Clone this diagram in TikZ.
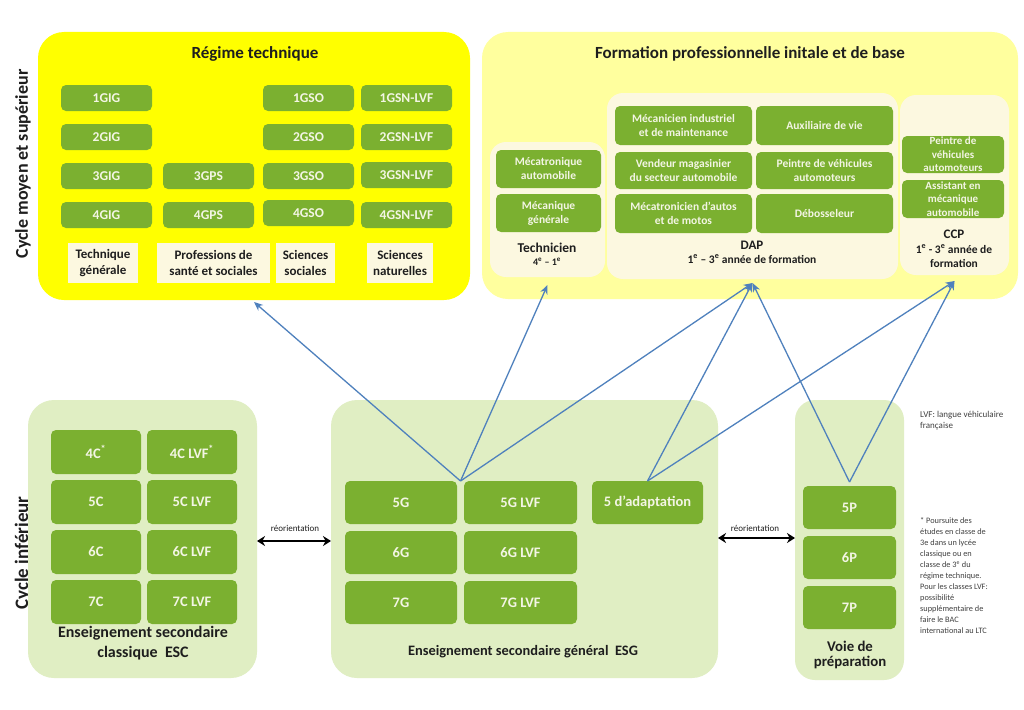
\documentclass[tikz,border=0pt]{standalone}
\usepackage{fontspec}
\setmainfont{Carlito}
\usetikzlibrary{arrows.meta,calc}
\definecolor{ybright}{HTML}{FFFF00}
\definecolor{ylight}{HTML}{FFFF9E}
\definecolor{cream}{HTML}{FCF8E0}
\definecolor{grn}{HTML}{7BB030}
\definecolor{gtxt}{HTML}{F3F5E4}
\definecolor{lgrn}{HTML}{E0EEC3}
\definecolor{arr}{HTML}{4F81BD}
\definecolor{ink}{HTML}{1E1E1E}
\newcommand\bx[7]{\node[#1, minimum width={(#5)-(#3)}, minimum height={(#6)-(#4)}] (#2) at ({((#3)+(#5))/2},{((#4)+(#6))/2}) {#7};}
\tikzset{
  gbox/.style={fill=grn, rounded corners=5pt, text=gtxt, font=\bfseries\fontsize{11.5}{14}\selectfont, align=center, inner sep=0pt, outer sep=0pt},
  gboxR/.style={gbox, font=\bfseries\fontsize{13.5}{15}\selectfont},
  gboxB/.style={gbox, font=\bfseries\fontsize{14.5}{16}\selectfont},
  lbox/.style={fill=cream, text=ink, font=\bfseries\fontsize{13}{16}\selectfont, align=center, inner sep=0pt, outer sep=0pt},
  bigbox/.style={rounded corners=26pt, inner sep=0pt, outer sep=0pt},
  innerbox/.style={fill=cream, rounded corners=16pt, inner sep=0pt, outer sep=0pt},
  lab/.style={text=ink, align=center, inner sep=0pt},
  blue/.style={draw=arr, line width=1.3pt, -{Stealth[length=9pt,width=7.5pt]}},
  reo/.style={draw=black, line width=1.8pt, {Stealth[length=8pt,width=10pt]}-{Stealth[length=8pt,width=10pt]}},
  reolab/.style={font=\fontsize{9}{10}\selectfont, text=ink, inner sep=0pt},
  note/.style={text=ink!85, align=left, inner sep=0pt, anchor=north west}
}
\begin{document}
\begin{tikzpicture}[x=1pt,y=-1pt]
\useasboundingbox[fill=white] (0,0) rectangle (1024,709);

% ---------- side labels ----------
\node[rotate=90, lab, font=\bfseries\fontsize{18}{20}\selectfont] (cms) at (23,164) {Cycle moyen et supérieur};
\node[rotate=90, lab, font=\bfseries\fontsize{19}{21}\selectfont] (ci) at (23,553) {Cycle inférieur};

% ---------- Régime technique ----------
\bx{bigbox, fill=ybright}{rt}{38}{32}{470}{300}{}
\node[lab, font=\bfseries\fontsize{17}{20}\selectfont] (rtt) at (255,54) {Régime technique};
\bx{gboxR}{gig1}{61}{85}{152}{111}{1GIG}
\bx{gboxR}{gig2}{61}{124}{152}{150}{2GIG}
\bx{gboxR}{gig3}{61}{163}{152}{189}{3GIG}
\bx{gboxR}{gig4}{61}{202}{152}{228}{4GIG}
\bx{gboxR}{gps3}{163}{163}{254}{189}{3GPS}
\bx{gboxR}{gps4}{163}{202}{254}{228}{4GPS}
\bx{gboxR}{gso1}{263}{85}{354}{111}{1GSO}
\bx{gboxR}{gso2}{263}{124}{354}{150}{2GSO}
\bx{gboxR}{gso3}{263}{163}{354}{189}{3GSO}
\bx{gboxR}{gso4}{263}{200}{354}{226}{4GSO}
\bx{gboxR}{gsn1}{361}{85}{452}{111}{1GSN-LVF}
\bx{gboxR}{gsn2}{361}{124}{452}{150}{2GSN-LVF}
\bx{gboxR}{gsn3}{361}{162}{452}{188}{3GSN-LVF}
\bx{gboxR}{gsn4}{361}{202}{452}{228}{4GSN-LVF}
\bx{lbox}{ltg}{68}{243}{138}{283}{Technique\\générale}
\bx{lbox}{lpss}{157}{243}{270}{283}{Professions de\\santé et sociales}
\bx{lbox}{lss}{276}{243}{335}{283}{Sciences\\sociales}
\bx{lbox}{lsn}{367}{243}{433}{283}{Sciences\\naturelles}

% ---------- Formation professionnelle ----------
\bx{bigbox, fill=ylight}{fp}{482}{32}{1018}{299}{}
\node[lab, font=\bfseries\fontsize{17}{20}\selectfont] (fpt) at (750,54) {Formation professionnelle initale et de base};

\bx{innerbox}{tech}{490}{142}{605}{277}{}
\bx{gbox}{mecau}{496}{150}{601}{188}{Mécatronique\\automobile}
\bx{gbox}{mecg}{496}{194}{601}{232}{Mécanique\\générale}
\node[lab, font=\bfseries\fontsize{13.5}{14}\selectfont] (techl) at (547,248) {Technicien};
\node[lab, font=\bfseries\fontsize{10}{12}\selectfont] (techy) at (547,262) {4\textsuperscript{e} – 1\textsuperscript{e}};

\bx{innerbox}{dap}{607}{93}{898}{279}{}
\bx{gbox}{d1}{615}{106}{752}{145}{Mécanicien industriel\\et de maintenance}
\bx{gbox}{d2}{756}{106}{893}{145}{Auxiliaire de vie}
\bx{gbox}{d3}{615}{152}{752}{189}{Vendeur magasinier\\du secteur automobile}
\bx{gbox}{d4}{756}{152}{893}{189}{Peintre de véhicules\\automoteurs}
\bx{gbox}{d5}{615}{194}{752}{233}{Mécatronicien d'autos\\et de motos}
\bx{gbox}{d6}{756}{194}{893}{233}{Débosseleur}
\node[lab, font=\bfseries\fontsize{13}{14}\selectfont] (dapl) at (752,245) {DAP};
\node[lab, font=\bfseries\fontsize{11.5}{13}\selectfont] (dapy) at (752,259) {1\textsuperscript{e} – 3\textsuperscript{e} année de formation};

\bx{innerbox}{ccp}{900}{95}{1009}{275}{}
\bx{gbox, font=\bfseries\fontsize{11}{13.5}\selectfont}{c1}{902}{136}{1004}{173}{Peintre de\\véhicules\\automoteurs}
\bx{gbox, font=\bfseries\fontsize{11}{13.5}\selectfont}{c2}{902}{180}{1004}{218}{Assistant en\\mécanique\\automobile}
\node[lab, font=\bfseries\fontsize{13}{14}\selectfont] (ccpl) at (954,234) {CCP};
\node[lab, font=\bfseries\fontsize{11.5}{14}\selectfont] (ccpy) at (954,256) {1\textsuperscript{e} - 3\textsuperscript{e} année de\\formation};

% ---------- ESC ----------
\bx{bigbox, fill=lgrn}{esc}{28}{400}{257}{678}{}
\bx{gboxB}{c4}{51}{430}{141}{474}{4C\textsuperscript{*}}
\bx{gboxB}{c4l}{147}{430}{237}{474}{4C LVF\textsuperscript{*}}
\bx{gboxB}{c5}{51}{480}{141}{524}{5C}
\bx{gboxB}{c5l}{147}{480}{237}{524}{5C LVF}
\bx{gboxB}{c6}{51}{530}{141}{574}{6C}
\bx{gboxB}{c6l}{147}{530}{237}{574}{6C LVF}
\bx{gboxB}{c7}{51}{580}{141}{624}{7C}
\bx{gboxB}{c7l}{147}{580}{237}{624}{7C LVF}
\node[lab, font=\bfseries\fontsize{16}{20}\selectfont] (escl) at (143,643) {Enseignement secondaire\\classique\ \ ESC};

% ---------- ESG ----------
\bx{bigbox, fill=lgrn}{esg}{331}{400}{718}{678}{}
\bx{gboxB}{g5}{345}{481}{457}{524}{5G}
\bx{gboxB}{g5l}{464}{481}{577}{524}{5G LVF}
\bx{gboxB}{g6}{345}{531}{457}{574}{6G}
\bx{gboxB}{g6l}{464}{531}{577}{574}{6G LVF}
\bx{gboxB}{g7}{345}{581}{457}{624}{7G}
\bx{gboxB}{g7l}{464}{581}{577}{624}{7G LVF}
\bx{gboxB}{ad}{592}{481}{703}{524}{5 d’adaptation}
\node[lab, font=\bfseries\fontsize{14.4}{16}\selectfont] (esgl) at (523,652) {Enseignement secondaire général\ \ ESG};

% ---------- Voie de préparation ----------
\bx{bigbox, fill=lgrn, rounded corners=20pt}{vp}{795}{400}{904}{680}{}
\bx{gboxB}{p5}{803}{486}{896}{529}{5P}
\bx{gboxB}{p6}{803}{536}{896}{579}{6P}
\bx{gboxB}{p7}{803}{586}{896}{629}{7P}
\node[lab, font=\bfseries\fontsize{14.8}{15.5}\selectfont] (vpl) at (850,655) {Voie de\\préparation};

% ---------- réorientation ----------
\draw[reo] (esc.east |- 0,541) -- (esg.west |- 0,541);
\node[reolab] (r1) at (295,528) {réorientation};
\draw[reo] (esg.east |- 0,538) -- (vp.west |- 0,538);
\node[reolab] (r2) at (755,528) {réorientation};

% ---------- notes ----------
\node[note, font=\fontsize{9}{11}\selectfont] (n1) at (920,411) {LVF: langue véhiculaire\\française};
\node[note, font=\fontsize{8.3}{11}\selectfont] (n2) at (920,517) {* Poursuite des\\études en classe de\\3e dans un lycée\\classique ou en\\classe de 3\textsuperscript{e} du\\régime technique.\\Pour les classes LVF:\\possibilité\\supplémentaire de\\faire le BAC\\international au LTC};

% ---------- connectors ----------
\coordinate (sg) at ($(g5.north east)!0.5!(g5l.north west)$);
\coordinate (sa) at (ad.north);
\coordinate (sp) at ([yshift=4pt]p5.north);
\coordinate (trt) at ([yshift=-2pt]rt.south);
\coordinate (ttech) at ([yshift=-8pt]tech.south);
\coordinate (tdap) at ([yshift=-4pt]dap.south);
\coordinate (tccp) at ([yshift=-6pt]ccp.south);
\draw[blue] (sg) -- (trt);
\draw[blue] (sg) -- (ttech);
\draw[blue] (sg) -- (tdap);
\draw[blue] (sa) -- (tdap);
\draw[blue] (sa) -- (tccp);
\draw[blue] (sp) -- (tdap);
\draw[blue] (sp) -- (tccp);
\end{tikzpicture}
\end{document}
